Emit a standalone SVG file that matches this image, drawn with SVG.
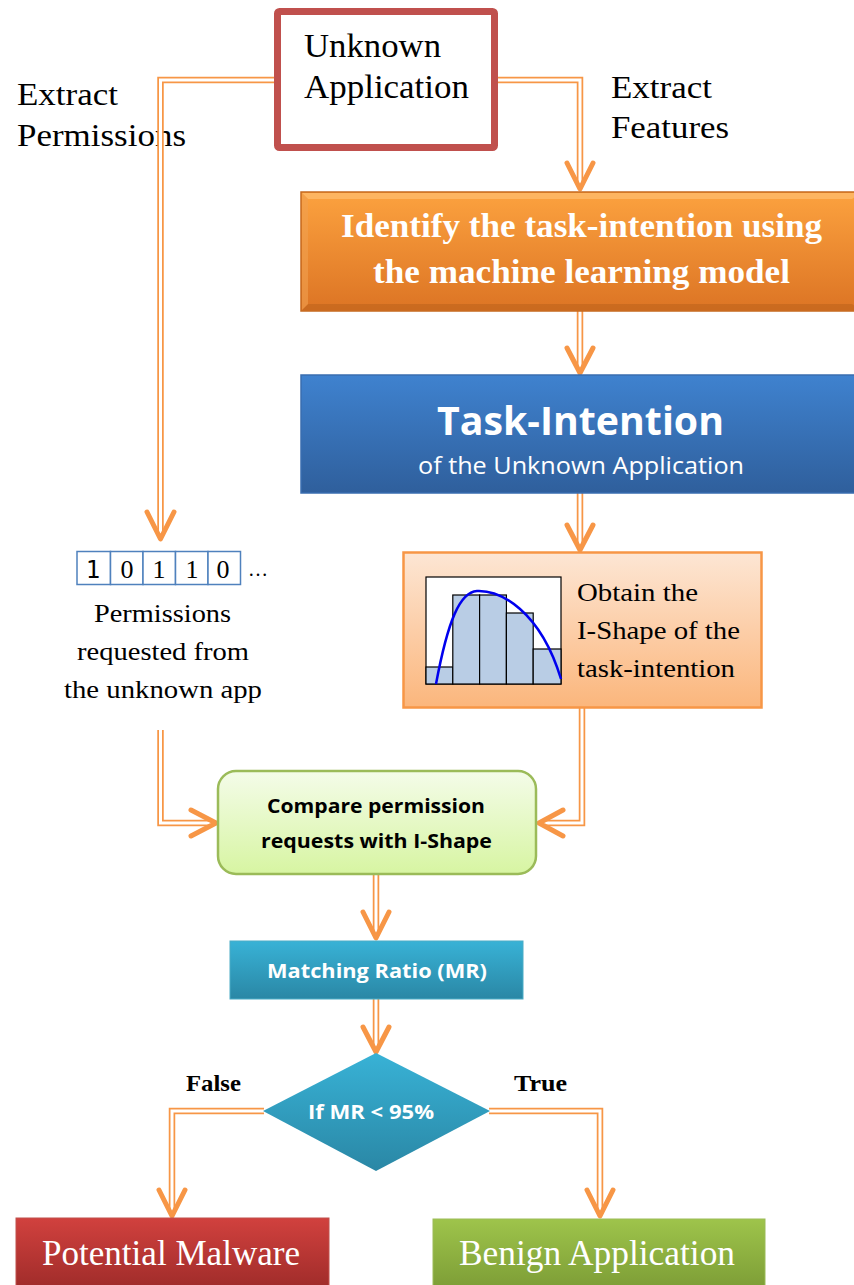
<svg xmlns="http://www.w3.org/2000/svg" width="854" height="1285" viewBox="0 0 854 1285">
  <defs>
    <linearGradient id="gOrange" x1="0" y1="0" x2="0" y2="1">
      <stop offset="0" stop-color="#FCA23F"/>
      <stop offset="1" stop-color="#DC7424"/>
    </linearGradient>
    <linearGradient id="gBlue" x1="0" y1="0" x2="0" y2="1">
      <stop offset="0" stop-color="#3F82CF"/>
      <stop offset="1" stop-color="#2F5F9C"/>
    </linearGradient>
    <linearGradient id="gPeach" x1="0" y1="0" x2="0" y2="1">
      <stop offset="0" stop-color="#FDE6D4"/>
      <stop offset="1" stop-color="#FBB67C"/>
    </linearGradient>
    <linearGradient id="gLime" x1="0" y1="0" x2="0" y2="1">
      <stop offset="0" stop-color="#F4FCE9"/>
      <stop offset="1" stop-color="#D7F5A2"/>
    </linearGradient>
    <linearGradient id="gCyan" x1="0" y1="0" x2="0" y2="1">
      <stop offset="0" stop-color="#38B2D6"/>
      <stop offset="1" stop-color="#2A87A5"/>
    </linearGradient>
    <linearGradient id="gRed" x1="0" y1="0" x2="0" y2="1">
      <stop offset="0" stop-color="#D1413E"/>
      <stop offset="1" stop-color="#A02C2A"/>
    </linearGradient>
    <linearGradient id="gGreen" x1="0" y1="0" x2="0" y2="1">
      <stop offset="0" stop-color="#9EC44B"/>
      <stop offset="1" stop-color="#7D9D36"/>
    </linearGradient>
  </defs>
  <style>
    .dbl-out { fill: none; stroke: #F79646; stroke-width: 6.5; }
    .dbl-in { fill: none; stroke: #FFFFFF; stroke-width: 3; }
    .head { fill: none; stroke: #F79646; stroke-width: 5; stroke-linecap: round; stroke-linejoin: round; }
    .serif { font-family: "Liberation Serif", "Times New Roman", serif; }
    .sans { font-family: "Open Sans", "Noto Sans", "Liberation Sans", sans-serif; }
  </style>

  <rect width="854" height="1285" fill="#FFFFFF"/>

  <!-- free labels -->
  <g id="labels" class="serif" fill="#000000">
    <text x="17" y="105" font-size="32" textLength="101" lengthAdjust="spacingAndGlyphs">Extract</text>
    <text x="17" y="146" font-size="32" textLength="169" lengthAdjust="spacingAndGlyphs">Permissions</text>
    <text x="611" y="98" font-size="32" textLength="101" lengthAdjust="spacingAndGlyphs">Extract</text>
    <text x="611" y="138" font-size="32" textLength="118" lengthAdjust="spacingAndGlyphs">Features</text>
    <text x="186" y="1091" font-size="23" font-weight="bold" textLength="55" lengthAdjust="spacingAndGlyphs">False</text>
    <text x="514" y="1091" font-size="23" font-weight="bold" textLength="53" lengthAdjust="spacingAndGlyphs">True</text>
  </g>

  <!-- connectors -->
  <g id="connectors">
    <path class="dbl-out" d="M277 80 H160.5 V536"/>
    <path class="dbl-in" d="M277 80 H160.5 V536"/>
    <path class="dbl-out" d="M495 80 H580 V186"/>
    <path class="dbl-in" d="M495 80 H580 V186"/>
    <path class="dbl-out" d="M580 311 V370"/>
    <path class="dbl-in" d="M580 311 V370"/>
    <path class="dbl-out" d="M580 493 V548"/>
    <path class="dbl-in" d="M580 493 V548"/>
    <path class="dbl-out" d="M160.5 730 V823 H214"/>
    <path class="dbl-in" d="M160.5 730 V823 H214"/>
    <path class="dbl-out" d="M582 708 V823 H541"/>
    <path class="dbl-in" d="M582 708 V823 H541"/>
    <path class="dbl-out" d="M376 874 V936"/>
    <path class="dbl-in" d="M376 874 V936"/>
    <path class="dbl-out" d="M376 999 V1050"/>
    <path class="dbl-in" d="M376 999 V1050"/>
    <path class="dbl-out" d="M264 1111 H172 V1214"/>
    <path class="dbl-in" d="M264 1111 H172 V1214"/>
    <path class="dbl-out" d="M489 1111 H600 V1214"/>
    <path class="dbl-in" d="M489 1111 H600 V1214"/>

    <!-- open chevron heads -->
    <path class="head" d="M147 512 L160.5 539 L174 512"/>
    <path class="head" d="M567 163 L580 189 L593 163"/>
    <path class="head" d="M567 348 L580 373 L593 348"/>
    <path class="head" d="M567 525 L580 550 L593 525"/>
    <path class="head" d="M191 810 L216 823 L191 836"/>
    <path class="head" d="M563 810 L539 823 L563 836"/>
    <path class="head" d="M363 912 L376 938 L389 912"/>
    <path class="head" d="M363 1027 L376 1052 L389 1027"/>
    <path class="head" d="M159 1190 L172 1216 L185 1190"/>
    <path class="head" d="M587 1190 L600 1216 L613 1190"/>
  </g>

  <!-- Unknown Application -->
  <g id="unknown-app">
    <rect x="277.5" y="11.5" width="217" height="136" rx="2" fill="#FFFFFF" stroke="#C0504D" stroke-width="7"/>
    <text class="serif" x="304" y="57" font-size="33" fill="#000000" textLength="137" lengthAdjust="spacingAndGlyphs">Unknown</text>
    <text class="serif" x="304" y="98" font-size="33" fill="#000000" textLength="165" lengthAdjust="spacingAndGlyphs">Application</text>
  </g>

  <!-- Identify task-intention -->
  <g id="identify">
    <rect x="301" y="192" width="560" height="119" fill="url(#gOrange)" stroke="#C5691F" stroke-width="1.5"/>
    <path d="M302 193 H860 L852 199 H308 Z" fill="#FDBE70" opacity="0.7"/>
    <path d="M302 310 H860 L852 304 H308 Z" fill="#B85F1A" opacity="0.5"/>
    <path d="M302 193 L308 199 V304 L302 310 Z" fill="#F0A050" opacity="0.6"/>
    <text class="serif" x="341" y="237" font-size="34" font-weight="bold" fill="#FFFFFF" textLength="481" lengthAdjust="spacingAndGlyphs">Identify the task-intention using</text>
    <text class="serif" x="373" y="283" font-size="34" font-weight="bold" fill="#FFFFFF" textLength="417" lengthAdjust="spacingAndGlyphs">the machine learning model</text>
  </g>

  <!-- Task-Intention -->
  <g id="task-intention">
    <rect x="301" y="375" width="560" height="118" fill="url(#gBlue)" stroke="#3A6DB0" stroke-width="1.5"/>
    <text class="sans" x="437" y="435" font-size="40" font-weight="bold" fill="#FFFFFF" textLength="287" lengthAdjust="spacingAndGlyphs">Task-Intention</text>
    <text class="sans" x="418" y="474" font-size="23" fill="#FFFFFF" textLength="326" lengthAdjust="spacingAndGlyphs">of the Unknown Application</text>
  </g>

  <!-- permission bit vector -->
  <g id="permission-vector">
    <g fill="#FFFFFF" stroke="#4F81BD" stroke-width="1.5">
      <rect x="77" y="551.5" width="33.5" height="33"/>
      <rect x="110.5" y="551.5" width="32.5" height="33"/>
      <rect x="143" y="551.5" width="32.5" height="33"/>
      <rect x="175.5" y="551.5" width="32.5" height="33"/>
      <rect x="208" y="551.5" width="32.5" height="33"/>
    </g>
    <g class="serif" font-size="26" fill="#000000" text-anchor="middle">
      <text x="93" y="578" font-family="DejaVu Sans Mono, monospace" font-size="24">1</text>
      <text x="127" y="578">0</text>
      <text x="159" y="578">1</text>
      <text x="192" y="578">1</text>
      <text x="223" y="578">0</text>
      <text x="248" y="576" text-anchor="start" font-size="20">…</text>
    </g>
    <g class="serif" font-size="26" fill="#000000">
      <text x="94" y="622" textLength="137" lengthAdjust="spacingAndGlyphs">Permissions</text>
      <text x="77" y="660" textLength="172" lengthAdjust="spacingAndGlyphs">requested from</text>
      <text x="64" y="698" textLength="198" lengthAdjust="spacingAndGlyphs">the unknown app</text>
    </g>
  </g>

  <!-- I-Shape -->
  <g id="i-shape">
    <rect x="403.5" y="552.5" width="358" height="155" fill="url(#gPeach)" stroke="#F79646" stroke-width="2.5"/>
    <rect x="426" y="577" width="135" height="107" fill="#FFFFFF" stroke="#000000" stroke-width="1.2"/>
    <g fill="#B9CDE5" stroke="#000000" stroke-width="1.2">
      <rect x="426" y="667" width="26.8" height="17"/>
      <rect x="452.8" y="595" width="26.8" height="89"/>
      <rect x="479.6" y="595" width="26.8" height="89"/>
      <rect x="506.4" y="613" width="26.8" height="71"/>
      <rect x="533.2" y="649" width="27.8" height="35"/>
    </g>
    <path d="M436 684 C448 620 460 592 477 591 C500 590 540 610 561 679" fill="none" stroke="#0000EE" stroke-width="2.5"/>
    <g class="serif" font-size="26" fill="#000000">
      <text x="577" y="601" textLength="121" lengthAdjust="spacingAndGlyphs">Obtain the</text>
      <text x="577" y="639" textLength="163" lengthAdjust="spacingAndGlyphs">I-Shape of the</text>
      <text x="577" y="677" textLength="158" lengthAdjust="spacingAndGlyphs">task-intention</text>
    </g>
  </g>

  <!-- Compare -->
  <g id="compare">
    <rect x="218" y="771" width="318" height="103" rx="18" fill="url(#gLime)" stroke="#9BBB59" stroke-width="2.5"/>
    <text class="sans" x="267" y="813" font-size="20" font-weight="bold" fill="#000000" textLength="218" lengthAdjust="spacingAndGlyphs">Compare permission</text>
    <text class="sans" x="261" y="848" font-size="20" font-weight="bold" fill="#000000" textLength="231" lengthAdjust="spacingAndGlyphs">requests with I-Shape</text>
  </g>

  <!-- Matching Ratio -->
  <g id="matching-ratio">
    <rect x="230" y="941" width="293" height="58" fill="url(#gCyan)" stroke="#4BACC6" stroke-width="1"/>
    <text class="sans" x="267" y="978" font-size="20" font-weight="bold" fill="#FFFFFF" textLength="220" lengthAdjust="spacingAndGlyphs">Matching Ratio (MR)</text>
  </g>

  <!-- Decision -->
  <g id="decision">
    <path d="M376 1053 L490 1111 L376 1171 L263 1111 Z" fill="url(#gCyan)"/>
    <text class="sans" x="308" y="1119" font-size="20" font-weight="bold" fill="#FFFFFF" textLength="126" lengthAdjust="spacingAndGlyphs">If MR &lt; 95%</text>
  </g>

  <!-- Potential Malware -->
  <g id="malware">
    <rect x="16" y="1218" width="313" height="70" fill="url(#gRed)" stroke="#C0504D" stroke-width="1"/>
    <text class="serif" x="42" y="1265" font-size="35" fill="#FFFFFF" textLength="258" lengthAdjust="spacingAndGlyphs">Potential Malware</text>
  </g>

  <!-- Benign Application -->
  <g id="benign">
    <rect x="433" y="1219" width="332" height="70" fill="url(#gGreen)" stroke="#9BBB59" stroke-width="1"/>
    <text class="serif" x="459" y="1265" font-size="35" fill="#FFFFFF" textLength="276" lengthAdjust="spacingAndGlyphs">Benign Application</text>
  </g>
</svg>
